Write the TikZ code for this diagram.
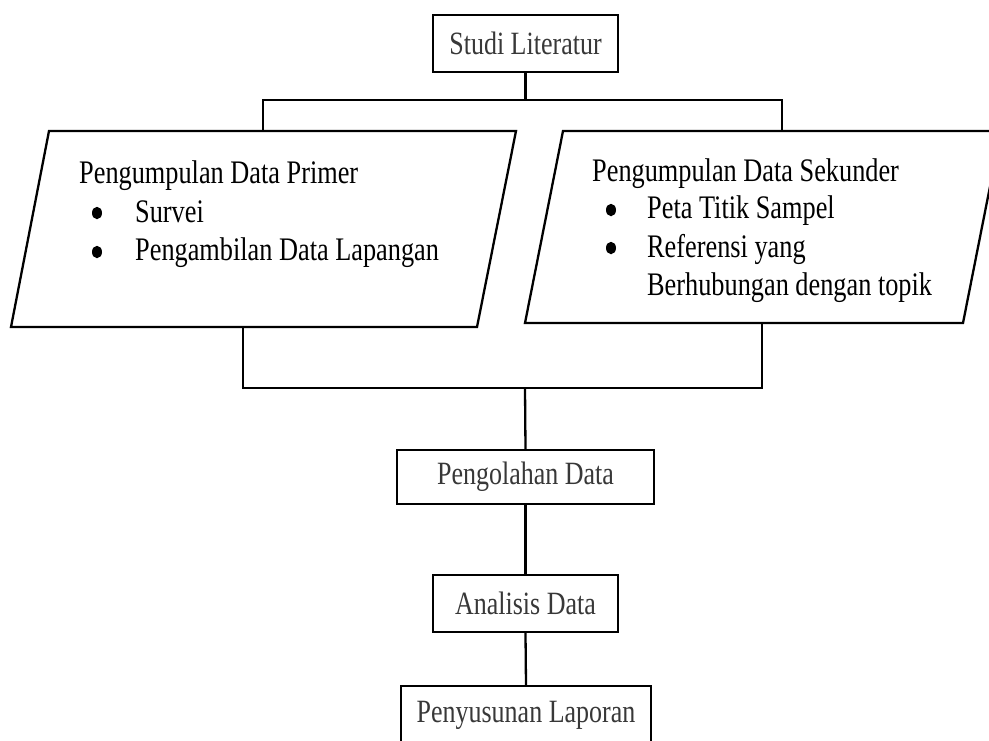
\documentclass[tikz,border=0pt]{standalone}
\usepackage{fontspec}
\usetikzlibrary{shapes.geometric}
\setmainfont{Liberation Serif}
\newcommand{\vst}[1]{\scalebox{1}[1.25]{#1}}
\begin{document}
\begin{tikzpicture}[x=1pt,y=-1pt,
  ln/.style={line width=2.3pt,line join=miter},
  boxn/.style={draw,line width=2.3pt,rectangle,inner sep=0pt,
    font=\fontsize{26}{30}\selectfont,text=black!78},
  txt/.style={font=\fontsize{26.3}{30}\selectfont,inner sep=0pt,anchor=base west},
  bul/.style={ellipse,fill=black,inner sep=0pt,minimum width=10pt,minimum height=12.5pt}]
\useasboundingbox (0,0) rectangle (989,740);
\clip (0,0) rectangle (989,740);
% boxes
\node[boxn, minimum width=185pt, minimum height=57pt] (studi) at (525.5,43.5) {\vst{Studi Literatur}};
\node[boxn, minimum width=257pt, minimum height=54pt] (olah) at (525.5,477) {\vst{Pengolahan Data}};
\node[boxn, minimum width=185pt, minimum height=57pt] (analisis) at (525.5,603.5) {\vst{Analisis Data}};
\node[boxn, minimum width=250pt, minimum height=58pt] (susun) at (526,715) {\vst{Penyusunan Laporan}};
% parallelograms
\draw[ln] (49,131) -- (516,131) -- (477,327) -- (11,327) -- cycle;
\draw[ln] (563,131) -- (1001,131) -- (963,323) -- (525,323) -- cycle;
% connection points
\coordinate (jt) at (525,100);
\coordinate (pL) at (263,131);
\coordinate (pR) at (782,131);
\coordinate (bL) at (243,327);
\coordinate (bR) at (762,323);
\coordinate (jb) at (525,388);
% connectors
\draw[ln] (studi.south) -- (studi.south |- jt);
\draw[ln] (pL) -- (pL |- jt) -- (pR |- jt) -- (pR);
\draw[ln] (bL) |- (jb);
\draw[ln] (bR) |- (jb);
\draw[ln] (jb) -- (olah.north);
\draw[ln] (olah.south) -- (analisis.north);
\draw[ln] (analisis.south) -- (susun.north);
% left texts
\node[txt] (l1) at (79,183) {\vst{Pengumpulan Data Primer}};
\node[bul] (lb1) at (97,213) {};
\node[txt] (l2) at (135,222) {\vst{Survei}};
\node[bul] (lb2) at (97,252) {};
\node[txt] (l3) at (135,260) {\vst{Pengambilan Data Lapangan}};
% right texts
\node[txt] (r1) at (592,181) {\vst{Pengumpulan Data Sekunder}};
\node[bul] (rb1) at (611,210) {};
\node[txt] (r2) at (647,218) {\vst{Peta Titik Sampel}};
\node[bul] (rb2) at (611,248) {};
\node[txt] (r3) at (647,257) {\vst{Referensi yang}};
\node[txt] (r4) at (647,295) {\vst{Berhubungan dengan topik}};
\end{tikzpicture}
\end{document}
